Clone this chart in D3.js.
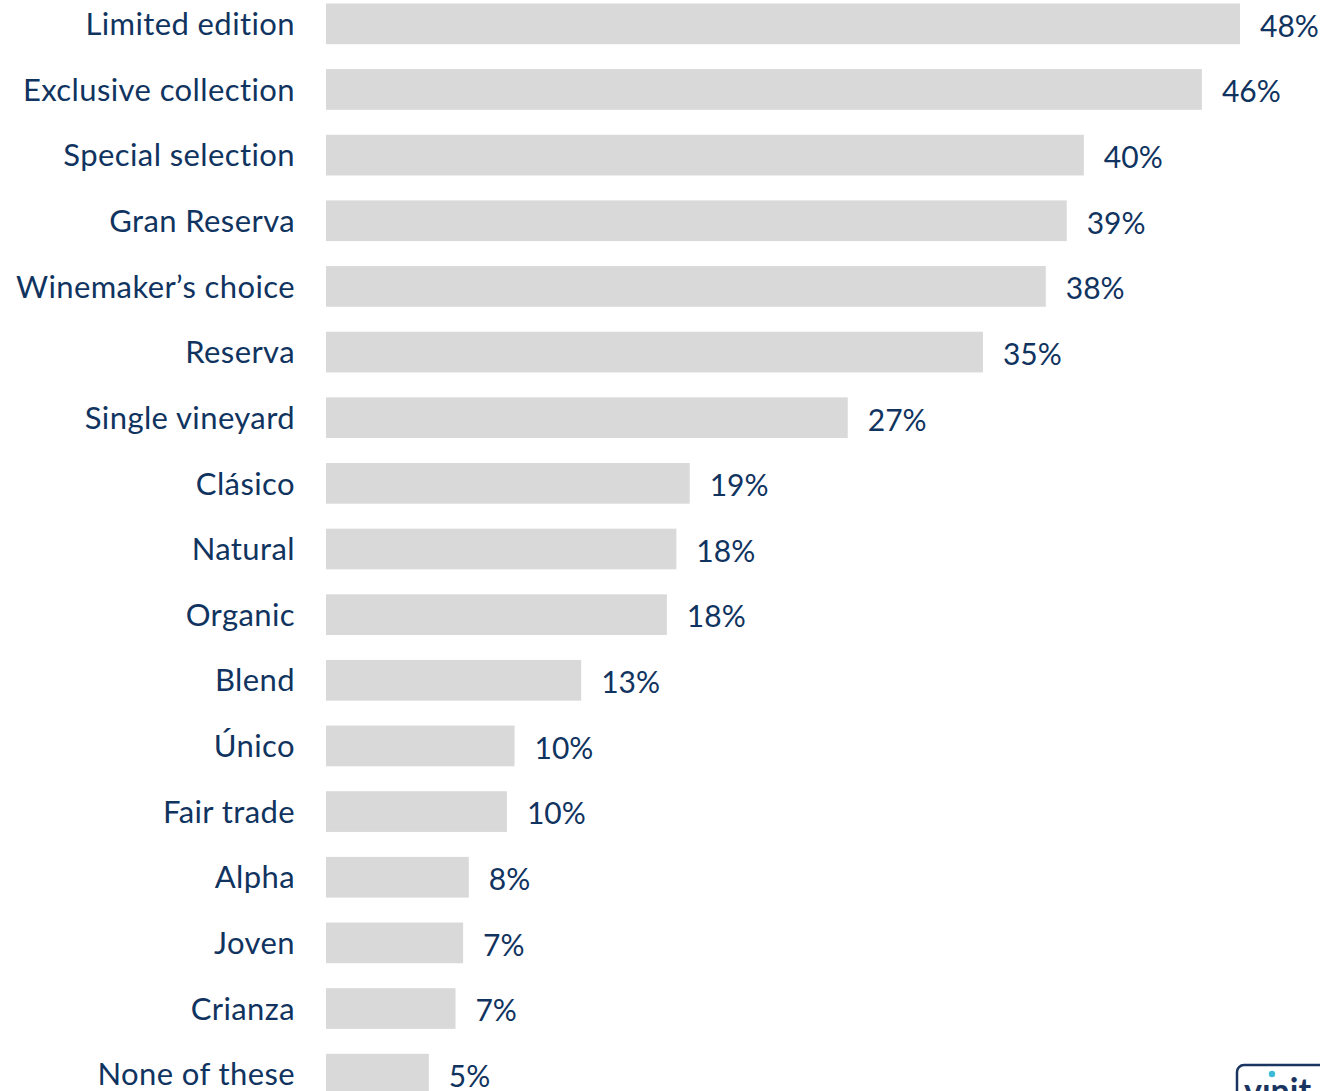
<!DOCTYPE html>
<html>
<head>
<meta charset="utf-8">
<script src="https://cdn.jsdelivr.net/npm/d3@7"></script>
<style>
  html, body { margin: 0; padding: 0; background: #fff; }
  svg { display: block; }
</style>
</head>
<body>
<div id="chart"></div>
<script>
// categories, top to bottom
var categories = ["Limited edition", "Exclusive collection", "Special selection", "Gran Reserva",
    "Winemaker\u2019s choice", "Reserva", "Single vineyard", "Cl\u00e1sico", "Natural", "Organic",
    "Blend", "\u00danico", "Fair trade", "Alpha", "Joven", "Crianza", "None of these"];
// share (%)
var shares = [48.0, 46.0, 39.8, 38.9, 37.8, 34.5, 27.4, 19.1, 18.4, 17.9, 13.4, 9.9, 9.5, 7.5, 7.2, 6.8, 5.4];
// printed labels
var shareLabels = ["48%", "46%", "40%", "39%", "38%", "35%", "27%", "19%", "18%", "18%",
    "13%", "10%", "10%", "8%", "7%", "7%", "5%"];

var width = 1320, height = 1091;
var textColor = "#10345f";
var barColor = "#d9d9d9";

var svg = d3.select("#chart").append("svg")
    .attr("width", width)
    .attr("height", height);

var x = d3.scaleLinear().domain([0, 48]).range([326, 1240]);

// band per row: 17 rows, pitch ~65.6px
var y = d3.scaleBand()
    .domain(categories)
    .range([-9, 1107])
    .paddingInner(0.38)
    .paddingOuter(0.19);

svg.selectAll("rect.bar")
    .data(categories)
    .enter()
    .append("rect")
    .attr("class", "bar")
    .attr("x", x(0))
    .attr("y", function (d) { return y(d); })
    .attr("width", function (d, i) { return x(shares[i]) - x(0); })
    .attr("height", y.bandwidth())
    .attr("fill", barColor);

// category labels
svg.selectAll("text.cat")
    .data(categories)
    .enter()
    .append("text")
    .attr("class", "cat")
    .attr("x", 295)
    .attr("y", function (d) { return y(d) + y.bandwidth() / 2; })
    .attr("dy", "0.36em")
    .attr("text-anchor", "end")
    .style("font-family", "Lato, 'Open Sans', sans-serif")
    .style("font-size", "31px")
    .style("letter-spacing", "0.4px")
    .style("fill", textColor)
    .text(function (d) { return d; });

// value labels
svg.selectAll("text.val")
    .data(categories)
    .enter()
    .append("text")
    .attr("class", "val")
    .attr("x", function (d, i) { return x(shares[i]) + 20; })
    .attr("y", function (d) { return y(d) + y.bandwidth() / 2 + 2; })
    .attr("dy", "0.36em")
    .style("font-family", "Lato, 'Open Sans', sans-serif")
    .style("font-size", "30px")
    .style("fill", textColor)
    .text(function (d, i) { return shareLabels[i]; });

// logo, cut by the bottom-right corner
var logo = svg.append("g").attr("transform", "translate(1237,1065)");
logo.append("rect")
    .attr("x", 0).attr("y", 0)
    .attr("width", 120).attr("height", 60)
    .attr("rx", 7)
    .attr("fill", "none")
    .attr("stroke", "#1a3561")
    .attr("stroke-width", 2.5);
logo.append("text")
    .attr("x", 7).attr("y", 38)
    .style("font-family", "Lato, sans-serif")
    .style("font-size", "34px")
    .style("font-weight", "bold")
    .style("fill", "#1a3561")
    .text("v\u0131nit");
logo.append("circle")
    .attr("cx", 35).attr("cy", 9).attr("r", 3.2)
    .attr("fill", "#3cbbd6");
</script>
</body>
</html>
